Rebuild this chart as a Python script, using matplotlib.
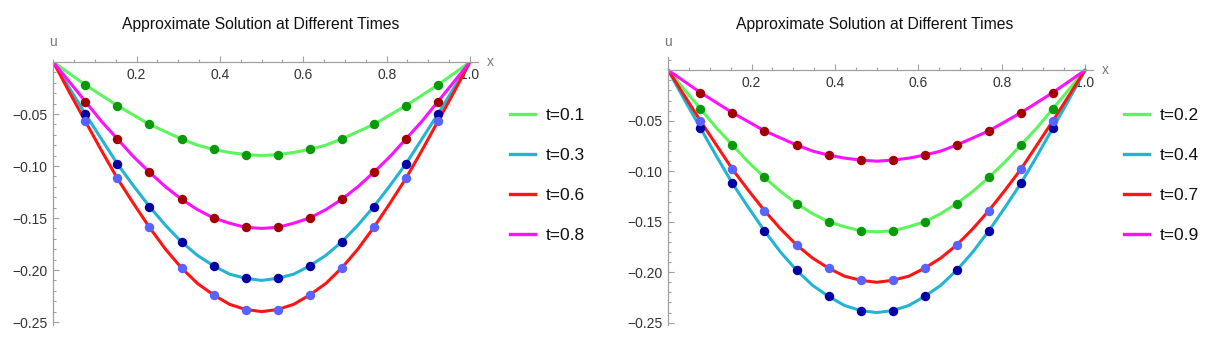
import numpy as np
import matplotlib
matplotlib.use("Agg")
import matplotlib.pyplot as plt
from matplotlib.ticker import MultipleLocator, FixedLocator, FuncFormatter

plt.rcParams['font.family'] = ['Liberation Sans', 'DejaVu Sans']

# ---------------- data ----------------
x_line = np.linspace(0, 1, 27)          # curve samples at x = k/26
x_dots = np.linspace(0, 1, 14)[1:-1]    # markers at x = k/13, k=1..12

u_t01 = [0, -.011, -.022, -.032, -.042, -.051, -.060, -.067, -.074, -.080, -.084, -.087, -.089, -.090,
         -.089, -.087, -.084, -.080, -.074, -.067, -.060, -.051, -.042, -.032, -.022, -.011, 0]
u_t03 = [0, -.025, -.050, -.074, -.098, -.119, -.139, -.157, -.173, -.186, -.196, -.204, -.208, -.210,
         -.208, -.204, -.196, -.186, -.173, -.157, -.139, -.119, -.098, -.074, -.050, -.025, 0]
u_t06 = [0, -.029, -.057, -.085, -.112, -.136, -.159, -.180, -.198, -.213, -.224, -.233, -.238, -.240,
         -.238, -.233, -.224, -.213, -.198, -.180, -.159, -.136, -.112, -.085, -.057, -.029, 0]
u_t08 = [0, -.019, -.038, -.057, -.074, -.091, -.106, -.120, -.132, -.142, -.150, -.155, -.159, -.160,
         -.159, -.155, -.150, -.142, -.132, -.120, -.106, -.091, -.074, -.057, -.038, -.019, 0]

u_t02 = [0, -.019, -.038, -.057, -.074, -.091, -.106, -.120, -.132, -.142, -.150, -.155, -.159, -.160,
         -.159, -.155, -.150, -.142, -.132, -.120, -.106, -.091, -.074, -.057, -.038, -.019, 0]
u_t04 = [0, -.029, -.057, -.085, -.112, -.136, -.159, -.180, -.198, -.213, -.224, -.233, -.238, -.240,
         -.238, -.233, -.224, -.213, -.198, -.180, -.159, -.136, -.112, -.085, -.057, -.029, 0]
u_t07 = [0, -.025, -.050, -.074, -.098, -.119, -.139, -.157, -.173, -.186, -.196, -.204, -.208, -.210,
         -.208, -.204, -.196, -.186, -.173, -.157, -.139, -.119, -.098, -.074, -.050, -.025, 0]
u_t09 = [0, -.011, -.022, -.032, -.042, -.051, -.060, -.067, -.074, -.080, -.084, -.087, -.089, -.090,
         -.089, -.087, -.084, -.080, -.074, -.067, -.060, -.051, -.042, -.032, -.022, -.011, 0]

labels_left = ["t=0.1", "t=0.3", "t=0.6", "t=0.8"]
labels_right = ["t=0.2", "t=0.4", "t=0.7", "t=0.9"]
series_left = [u_t01, u_t03, u_t06, u_t08]
series_right = [u_t02, u_t04, u_t07, u_t09]

title = "Approximate Solution at Different Times"
x_major = [0.2, 0.4, 0.6, 0.8, 1.0]
y_major = [-0.25, -0.20, -0.15, -0.10, -0.05]

# ---------------- styles ----------------
line_colors = ["#5cf55c", "#22b4d2", "#ff1414", "#ff10ff"]
dot_colors = ["#0a990a", "#0000a5", "#5a62ff", "#a30000"]
axis_col = "#a0a0a0"
text_col = "#333333"

fig = plt.figure(figsize=(12.1, 3.44), dpi=100)
W, H = 1210.0, 344.0


def make_panel(left_px, x0_py, ymin_px, ytop, ymin, labels, series, legend_x_px, title_cx):
    px_per_x = 416.7
    xmax = 1.02
    width_px = xmax * px_per_x
    ppu = (ymin_px - x0_py) / (0 - ymin)
    ax_top_px = x0_py - ytop * ppu
    ax = fig.add_axes([left_px / W, (H - ymin_px) / H, width_px / W, (ymin_px - ax_top_px) / H])
    ax.set_xlim(0, xmax)
    ax.set_ylim(ymin, ytop)
    ax.patch.set_alpha(0)

    for s, lc in zip(series, line_colors):
        ax.plot(x_line, s, color=lc, lw=2.2, solid_capstyle='round', zorder=2)
    for s, lab, lc in zip(series, labels, line_colors):
        ax.plot([], [], color=lc, lw=2.4, label=lab)
    for s, dc in zip(series, dot_colors):
        ax.plot(x_dots, np.asarray(s)[2:25:2], 'o', color=dc, ms=6.8, mec='none', zorder=3)

    for side in ['top', 'right']:
        ax.spines[side].set_visible(False)
    ax.spines['left'].set_position(('data', 0))
    ax.spines['bottom'].set_position(('data', 0))
    for side in ['left', 'bottom']:
        ax.spines[side].set_color(axis_col)
        ax.spines[side].set_linewidth(0.9)

    ax.xaxis.set_major_locator(FixedLocator(x_major))
    ax.xaxis.set_minor_locator(MultipleLocator(0.05))
    ax.yaxis.set_major_locator(FixedLocator(y_major))
    ax.yaxis.set_minor_locator(MultipleLocator(0.01))
    ax.xaxis.set_major_formatter(FuncFormatter(lambda v, p: f"{v:.1f}"))
    ax.yaxis.set_major_formatter(FuncFormatter(lambda v, p: f"\u2212{abs(v):.2f}"))
    ax.tick_params(which='both', direction='in', color=axis_col, width=0.8,
                   labelsize=10, labelcolor=text_col)
    ax.tick_params(which='major', length=4.0, pad=4)
    ax.tick_params(which='minor', length=2.2)

    fig.text(left_px / W, (H - 42) / H, "u", ha='center', va='center', fontsize=10, color="#777777")
    fig.text((left_px + 437) / W, (H - x0_py) / H, "x", ha='center', va='center', fontsize=10,
             color="#777777")
    fig.text(title_cx / W, (H - 25) / H, title, ha='center', va='center', fontsize=11.3, color="#111111")

    leg = ax.legend(loc='center left', bbox_to_anchor=(legend_x_px / W, (H - 175.5) / H),
                    bbox_transform=fig.transFigure, frameon=False, fontsize=12.5,
                    handlelength=1.45, handletextpad=0.6, labelspacing=1.42,
                    borderpad=0, borderaxespad=0)
    for t in leg.get_texts():
        t.set_color("#111111")
    return ax


make_panel(53.3, 62.0, 324.6, 0.0, -0.2525, labels_left, series_left, 510, 261)
make_panel(668.3, 70.3, 325.2, 0.013, -0.2525, labels_right, series_right, 1124, 875)

fig.savefig("out.png", dpi=100, facecolor="white")
